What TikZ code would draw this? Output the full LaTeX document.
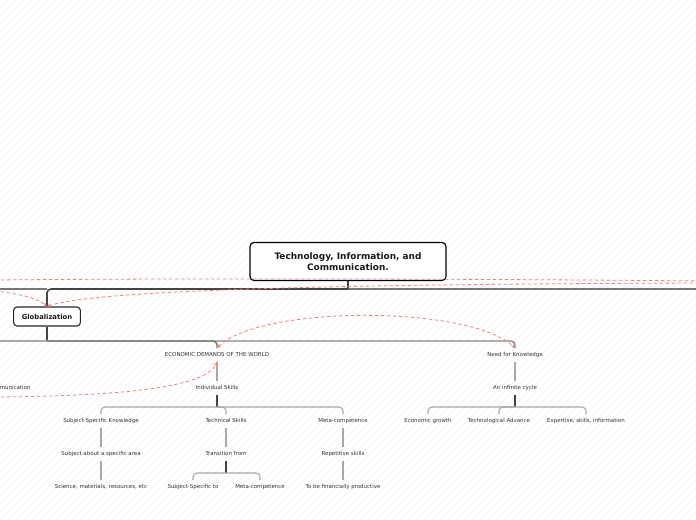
\documentclass[tikz,border=0pt]{standalone}
\usepackage{fontspec}
\setmainfont{DejaVu Sans}
\usetikzlibrary{arrows.meta,calc}
\definecolor{txt}{HTML}{333333}
\definecolor{trunkc}{HTML}{444444}
\definecolor{midc}{HTML}{777777}
\definecolor{branchc}{HTML}{A8A8A8}
\definecolor{relc}{HTML}{F08080}
\definecolor{hatchc}{HTML}{F3F3F3}
\tikzset{
  rootbox/.style={draw=black, line width=0.9pt, rounded corners=3pt, fill=white,
    minimum width=147pt, minimum height=28.5pt, align=center, inner sep=1pt,
    font=\fontsize{6.7}{8.2}\selectfont\bfseries, text=black!90},
  topicbox/.style={draw=black!85, line width=0.8pt, rounded corners=2.5pt, fill=white,
    minimum width=50pt, minimum height=14.25pt, inner sep=1pt,
    font=\fontsize{5.1}{6}\selectfont\bfseries, text=black!90},
  leaf/.style={inner xsep=1pt, inner ysep=3pt, text height=3pt, text depth=1pt,
    font=\fontsize{4.1}{5}\selectfont, text=txt},
  trunk/.style={draw=trunkc, line width=1.2pt},
  trunkthin/.style={draw=trunkc, line width=1pt},
  midline/.style={draw=midc, line width=1.1pt},
  branch/.style={draw=branchc, line width=0.8pt, rounded corners=3pt},
  branchthick/.style={draw=branchc!80!black, line width=1.1pt, rounded corners=3pt},
  rel/.style={draw=relc, line width=0.6pt, dash pattern=on 2.5pt off 2pt,
    -{Stealth[length=3pt,width=2.5pt]}},
  relplain/.style={draw=relc, line width=0.6pt, dash pattern=on 2.5pt off 2pt},
  hatch/.style={draw=hatchc, line width=0.4pt}
}
\begin{document}
\begin{tikzpicture}[x=0.75pt,y=-0.75pt]
\useasboundingbox (0,0) rectangle (696,520);
\clip (0,0) rectangle (696,520);
\fill[white] (0,0) rectangle (696,520);
\foreach \i in {-520,-512,...,700} \draw[hatch] (\i,520) -- ({\i+520},0);

% free ends off the picture
\coordinate (l0) at (-5,289);
\coordinate (r0) at (705,289);
\coordinate (l2) at (-5,341);
\coordinate (rA) at (-5,280);
\coordinate (rB) at (705,281);
\coordinate (rC) at (-5,291);
\coordinate (rD) at (705,283);
\coordinate (rE) at (-5,397);

% bus points
\coordinate (b0) at (348,289);
\coordinate (b2) at (47,341);
\coordinate (b3) at (217,407);
\coordinate (b4) at (226,473);
\coordinate (b5) at (515,407);

% nodes
\node[rootbox] (root) at (348,261.5) {Technology, Information, and\\Communication.};
\node[topicbox] (glob) at (47,316.5) {Globalization};
\node[leaf] (econ) at (217,355) {ECONOMIC DEMANDS OF THE WORLD};
\node[leaf] (need) at (515,355) {Need for Knowledge};
\node[leaf, anchor=east] (comm) at (32,388) {Communication};
\node[leaf] (indiv) at (217,388) {Individual Skills};
\node[leaf] (ssk) at (101,421) {Subject-Specific Knowledge};
\node[leaf] (tech) at (226,421) {Technical Skills};
\node[leaf] (meta) at (343,421) {Meta-competence};
\node[leaf] (subj) at (101,454) {Subject about a specific area};
\node[leaf] (trans) at (226,454) {Transition from};
\node[leaf] (rep) at (343,454) {Repetitive skills};
\node[leaf] (sci) at (101,487) {Science, materials, resources, etc};
\node[leaf] (ssto) at (193,487) {Subject-Specific to};
\node[leaf] (metb) at (260,487) {Meta-competence};
\node[leaf] (fin) at (343,487) {To be financially productive};
\node[leaf] (cycle) at (515,388) {An infinite cycle};
\node[leaf] (eg) at (428,421) {Economic growth};
\node[leaf] (ta) at (499,421) {Technological Advance};
\node[leaf] (exp) at (586,421) {Expertise, skills, information};

% top level connectors
\draw[draw=midc, line width=1.2pt] (b0) -- (r0);
\draw[draw=midc, line width=1.2pt] (l0) -- (glob.north |- b0);
\draw[trunk] (root.south) -- (b0);
\draw[trunk, rounded corners=3pt] (b0) -| (glob.north);

% Globalization connectors
\draw[trunk] (glob.south) -- (b2);
\draw[draw=branchc, line width=1.1pt] (l2) -- (b2);
\draw[branchthick] (b2) -| (need.north);
\draw[midline, rounded corners=3pt] (b2) -| (econ.north);

% chains
\draw[branch] (econ.south) -- (indiv.north);
\draw[branch] (need.south) -- (cycle.north);
\draw[branch] (ssk.south) -- (subj.north);
\draw[branch] (subj.south) -- (sci.north);
\draw[branch] (tech.south) -- (trans.north);
\draw[branch] (meta.south) -- (rep.north);
\draw[branch] (rep.south) -- (fin.north);

% buses
\draw[trunkthin] (indiv.south) -- (b3);
\foreach \c in {ssk,tech,meta} \draw[branch] (b3) -| (\c.north);
\draw[trunkthin] (trans.south) -- (b4);
\foreach \c in {ssto,metb} \draw[branch] (b4) -| (\c.north);
\draw[trunkthin] (cycle.south) -- (b5);
\foreach \c in {eg,ta,exp} \draw[branch] (b5) -| (\c.north);

% relationships
\draw[relplain] (rA) .. controls (200,278) and (500,279) .. (rB);
\draw[rel] (rC) .. controls (15,293) and (38,298) .. (glob.north);
\draw[rel] (rD) .. controls (400,284) and (100,288) .. (glob.north);
\draw[rel, {Stealth[length=3pt,width=2.5pt]}-{Stealth[length=3pt,width=2.5pt]}] (econ.north) .. controls (260,305) and (470,305) .. (need.north);
\draw[rel] (rE) .. controls (120,396) and (205,388) .. (econ.south);
\end{tikzpicture}
\end{document}
